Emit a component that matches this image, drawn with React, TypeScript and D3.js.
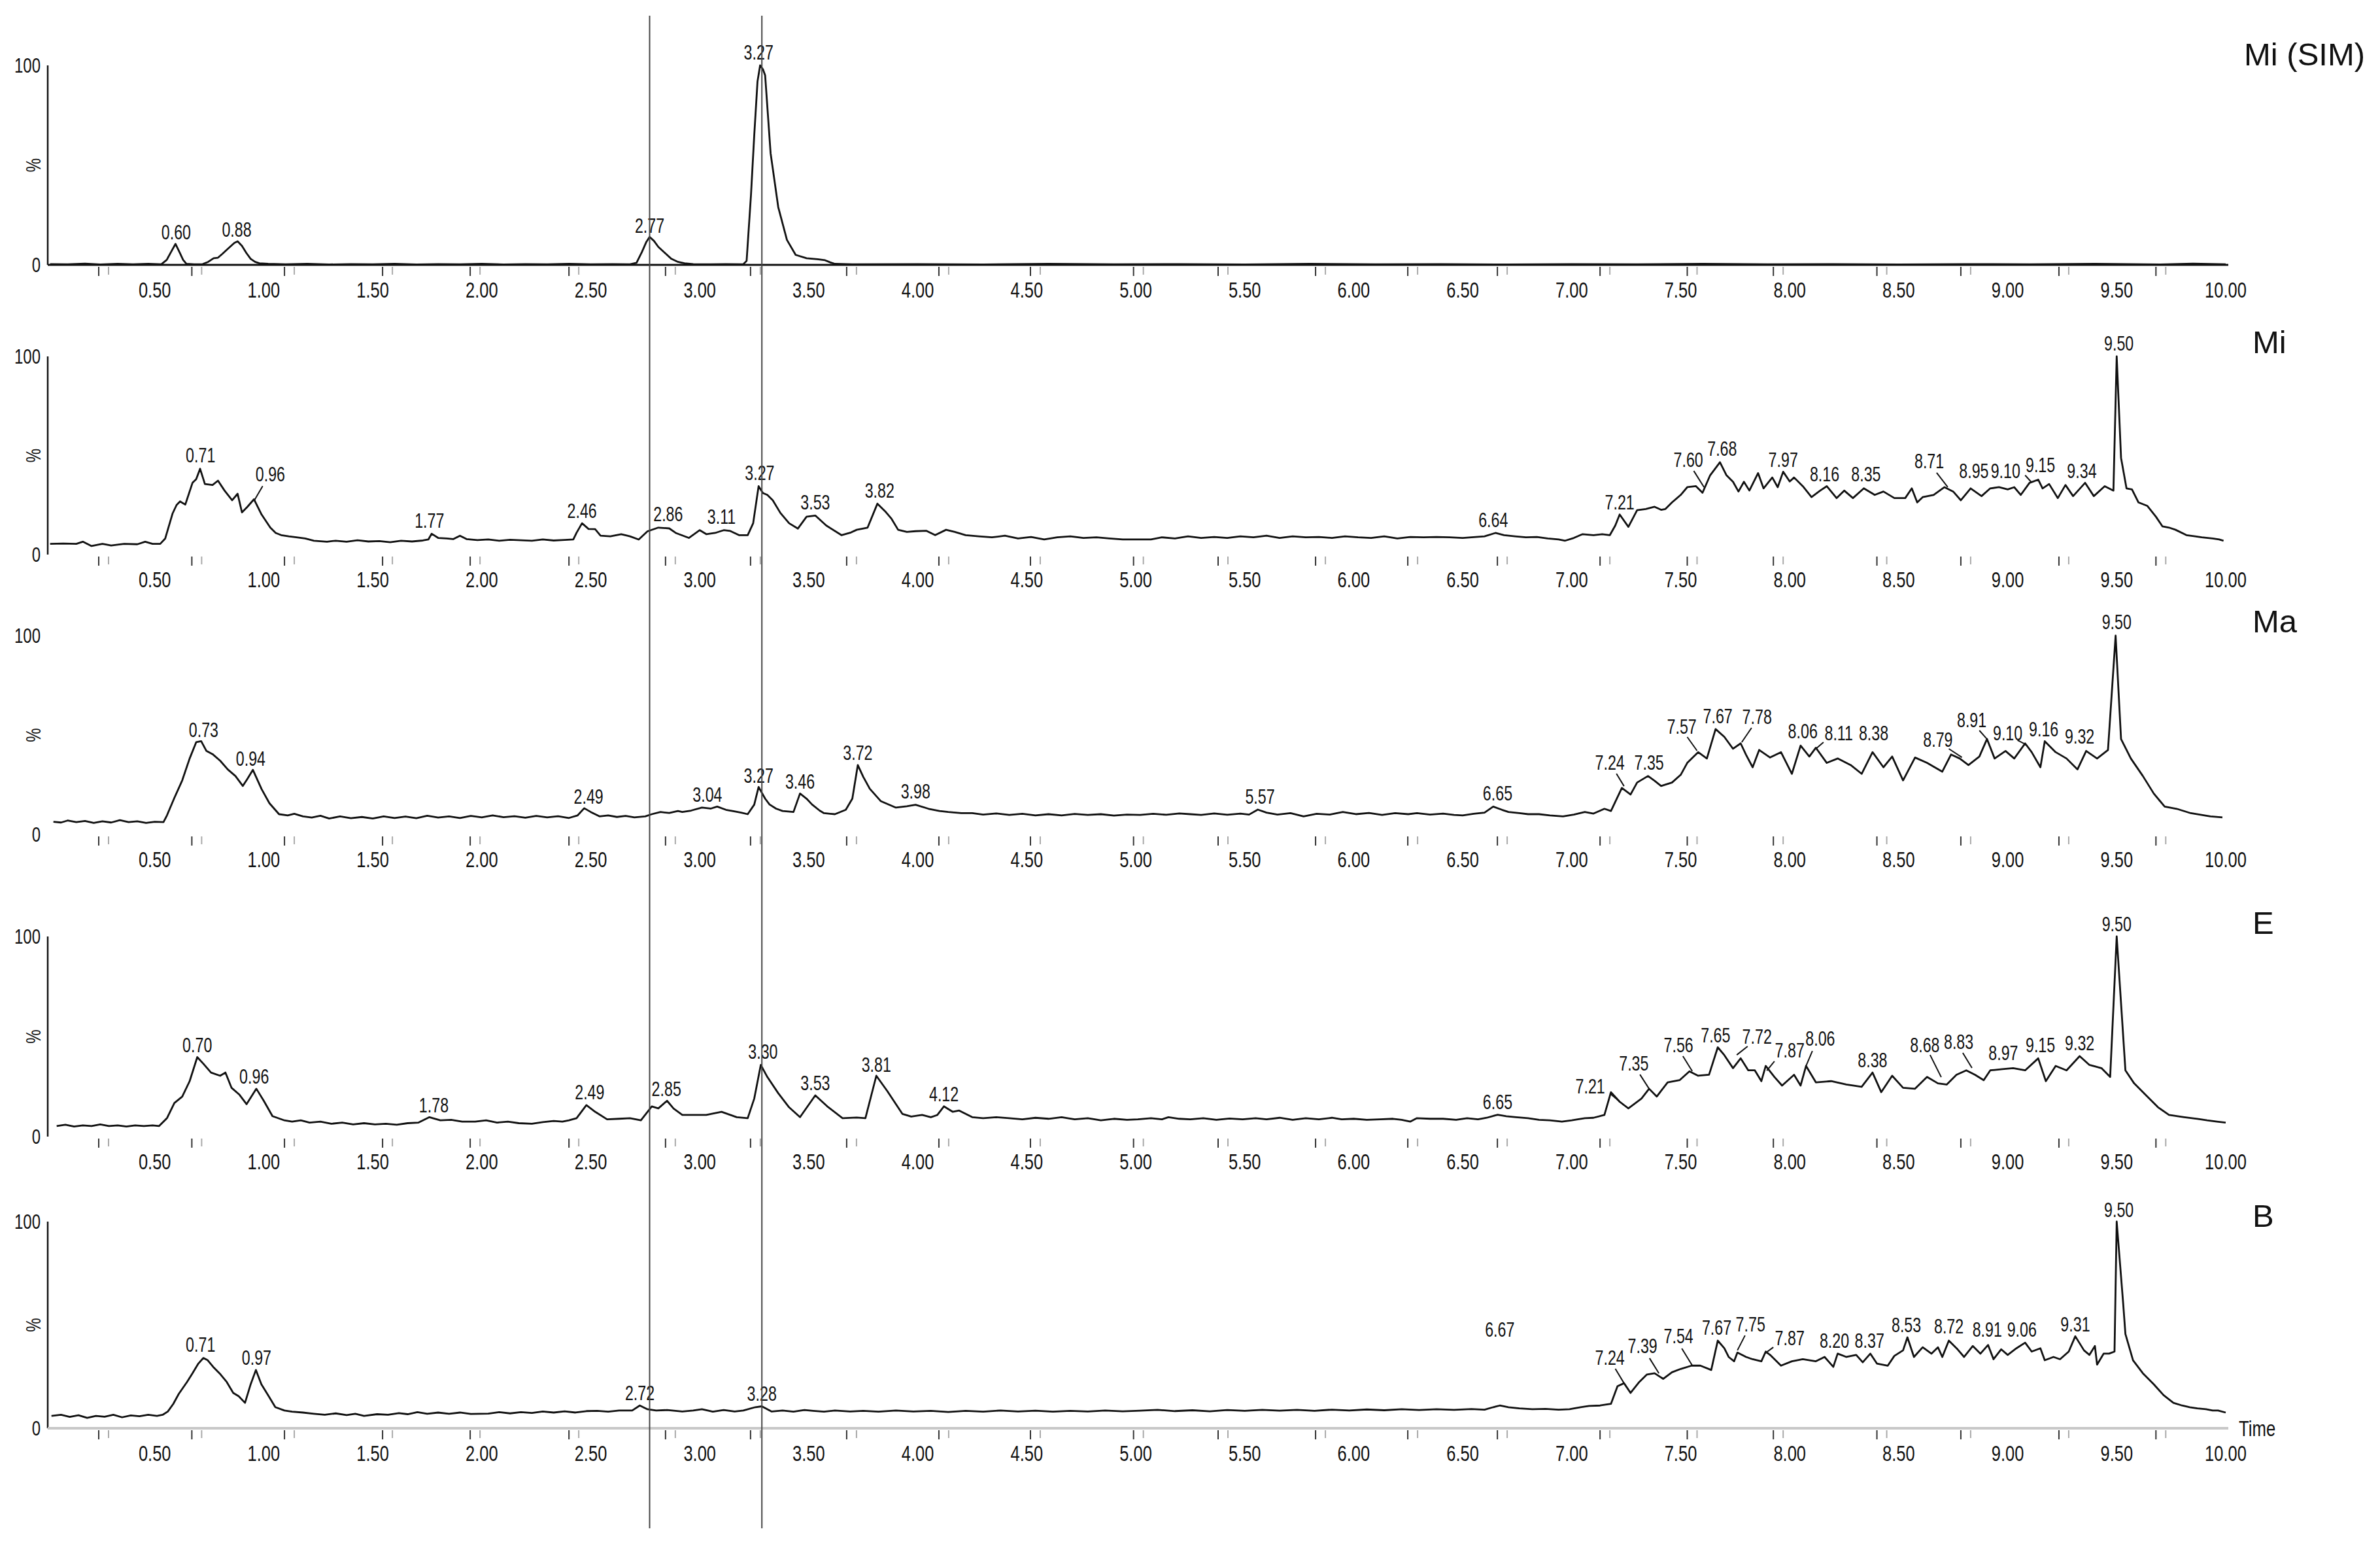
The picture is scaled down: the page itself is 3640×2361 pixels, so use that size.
import React from "react";
import * as d3 from "d3";

type Pt = [number, number];
type Lbl = { t: number; v: number; text: string; lt?: number; lv?: number; pt?: number; pv?: number };

const W = 3640;
const H = 2361;
const FONT = "'Liberation Sans', Arial, Helvetica, sans-serif";

// ---------- axis data ----------
const xTickValues = [0.5, 1, 1.5, 2, 2.5, 3, 3.5, 4, 4.5, 5, 5.5, 6, 6.5, 7, 7.5, 8, 8.5, 9, 9.5, 10];
const scanTicks = [0.243, 0.67, 1.095, 1.545, 1.947, 2.4, 2.843, 3.233, 3.674, 4.097, 4.517, 4.99, 5.378, 5.825, 6.248, 6.659, 7.13, 7.53, 7.925, 8.4, 8.785, 9.235, 9.68];
const markerTimes = [2.77, 3.285];
const panelNames = ["Mi (SIM)", "Mi", "Ma", "E", "B"];

// ---------- traces (time, %) ----------
const traceMiSIM: Pt[] = [
  [0.02, 0.4], [0.1, 0.3], [0.18, 0.6], [0.25, 0.2], [0.33, 0.5], [0.4, 0.3], [0.47, 0.5], [0.53, 0.3], [0.555, 2.5], [0.575, 6.5], [0.595, 10.5], [0.615, 6], [0.63, 2.5], [0.645, 0.5], [0.68, 0.3], [0.72, 0.4], [0.745, 1.5], [0.77, 3.3], [0.79, 3.6], [0.81, 5.5], [0.84, 8.5], [0.865, 11], [0.88, 11.8], [0.9, 9.5], [0.92, 6], [0.94, 3], [0.96, 1.5], [0.98, 0.8], [1.02, 0.5], [1.1, 0.3], [1.2, 0.5], [1.3, 0.2], [1.4, 0.4], [1.5, 0.3], [1.6, 0.5], [1.7, 0.2], [1.8, 0.4], [1.9, 0.3], [2.0, 0.5], [2.1, 0.2], [2.2, 0.4], [2.3, 0.3], [2.4, 0.5], [2.5, 0.3], [2.6, 0.4], [2.68, 0.3], [2.71, 1], [2.735, 6.5], [2.755, 11.5], [2.77, 14], [2.79, 12], [2.81, 9], [2.84, 6], [2.87, 3], [2.9, 1.5], [2.93, 0.8], [2.97, 0.4], [3.05, 0.3], [3.12, 0.4], [3.2, 0.3], [3.215, 2], [3.235, 35], [3.25, 65], [3.265, 92], [3.277, 100], [3.29, 98], [3.3, 95], [3.325, 56], [3.36, 29], [3.4, 12.5], [3.44, 5], [3.49, 3.3], [3.54, 2.8], [3.575, 2.3], [3.6, 1.2], [3.62, 0.5], [3.7, 0.3], [4.0, 0.4], [4.3, 0.2], [4.6, 0.5], [4.9, 0.3], [5.2, 0.4], [5.5, 0.2], [5.8, 0.5], [6.1, 0.3], [6.4, 0.4], [6.7, 0.2], [7.0, 0.4], [7.3, 0.3], [7.6, 0.5], [7.9, 0.3], [8.2, 0.4], [8.5, 0.2], [8.8, 0.4], [9.1, 0.3], [9.4, 0.5], [9.7, 0.2], [9.85, 0.6], [10.0, 0.3],
];

const traceMi: Pt[] = [
  [0.02, 5.4], [0.08, 5.6], [0.14, 5.4], [0.17, 6.5], [0.21, 4.3], [0.26, 5.4], [0.3, 4.6], [0.36, 5.4], [0.42, 5.2], [0.456, 6.5], [0.49, 5.4], [0.525, 5.4], [0.548, 8.1], [0.582, 20.8], [0.6, 25], [0.616, 26.8], [0.64, 25.2], [0.673, 36.2], [0.69, 38], [0.708, 43.3], [0.73, 35.6], [0.765, 35.1], [0.79, 37.3], [0.82, 32.3], [0.855, 27.4], [0.88, 30.7], [0.9, 21.3], [0.925, 24.1], [0.955, 27.9], [0.99, 20.2], [1.03, 13.6], [1.055, 10.9], [1.08, 9.8], [1.115, 9.2], [1.15, 8.7], [1.19, 8.1], [1.23, 7.0], [1.29, 6.5], [1.33, 7.0], [1.38, 6.5], [1.43, 7.2], [1.48, 6.6], [1.53, 6.8], [1.58, 6.2], [1.63, 7.0], [1.68, 6.6], [1.73, 7.1], [1.755, 7.6], [1.77, 10.5], [1.8, 8.4], [1.84, 8.1], [1.87, 7.8], [1.9, 9.5], [1.93, 7.8], [1.98, 7.3], [2.03, 7.6], [2.08, 7.0], [2.13, 7.5], [2.18, 7.2], [2.23, 7.0], [2.28, 7.6], [2.33, 7.1], [2.38, 7.4], [2.42, 7.6], [2.435, 11.0], [2.46, 15.8], [2.49, 12.9], [2.52, 12.8], [2.545, 9.5], [2.59, 9.2], [2.64, 10.3], [2.68, 9.2], [2.72, 7.6], [2.76, 11.7], [2.81, 13.6], [2.86, 13.2], [2.89, 10.9], [2.95, 8.4], [3.0, 12.3], [3.03, 10.3], [3.07, 10.9], [3.11, 12.3], [3.14, 11.9], [3.18, 9.8], [3.22, 9.8], [3.245, 15.8], [3.27, 34.5], [3.29, 31], [3.31, 30.1], [3.335, 27.4], [3.37, 21], [3.41, 15.8], [3.45, 13.1], [3.49, 19.1], [3.53, 19.7], [3.58, 14.7], [3.65, 9.8], [3.69, 11.0], [3.72, 12.5], [3.77, 13.6], [3.815, 25.7], [3.85, 21.9], [3.88, 18], [3.91, 12.5], [3.95, 11.4], [3.99, 11.8], [4.04, 12.0], [4.08, 9.8], [4.13, 12.5], [4.17, 11.4], [4.22, 9.8], [4.28, 9.2], [4.34, 8.7], [4.4, 9.5], [4.46, 8.1], [4.52, 8.9], [4.58, 7.6], [4.64, 8.7], [4.7, 9.2], [4.76, 8.4], [4.82, 8.7], [4.88, 8.1], [4.94, 7.6], [5.0, 7.6], [5.07, 7.6], [5.12, 8.7], [5.18, 8.1], [5.24, 9.2], [5.3, 8.4], [5.36, 8.9], [5.42, 8.4], [5.48, 9.2], [5.54, 8.7], [5.6, 9.5], [5.66, 8.4], [5.72, 9.2], [5.78, 8.7], [5.84, 8.9], [5.9, 8.4], [5.96, 9.2], [6.02, 8.7], [6.08, 8.4], [6.14, 9.2], [6.2, 8.1], [6.26, 8.9], [6.32, 8.7], [6.38, 8.9], [6.44, 8.7], [6.5, 8.4], [6.56, 8.9], [6.6, 9.2], [6.65, 10.9], [6.69, 9.8], [6.74, 9.2], [6.79, 8.7], [6.84, 8.9], [6.89, 8.1], [6.94, 7.6], [6.97, 7.0], [7.01, 8.4], [7.05, 10.3], [7.1, 9.8], [7.14, 10.3], [7.175, 9.8], [7.2, 14.7], [7.22, 20.2], [7.26, 14.0], [7.3, 22.4], [7.34, 23.0], [7.38, 24.1], [7.41, 22.6], [7.43, 23.0], [7.46, 26.3], [7.5, 30.1], [7.53, 34.0], [7.57, 34.5], [7.6, 31.2], [7.635, 40], [7.68, 46.6], [7.71, 40.0], [7.74, 36.7], [7.765, 31.8], [7.79, 36.7], [7.815, 32.3], [7.855, 41.1], [7.88, 33.4], [7.92, 38.9], [7.945, 34.0], [7.97, 41.8], [8.0, 36.9], [8.02, 38.9], [8.06, 34.5], [8.1, 29.0], [8.14, 32.3], [8.17, 34.5], [8.215, 28.5], [8.25, 32.3], [8.29, 28.5], [8.34, 33.4], [8.39, 30.1], [8.43, 31.8], [8.48, 28.5], [8.53, 28.5], [8.56, 33.4], [8.585, 26.3], [8.61, 29.0], [8.66, 30.1], [8.71, 34.0], [8.75, 31.8], [8.785, 27.4], [8.83, 33.4], [8.88, 29.5], [8.92, 33.4], [8.96, 34.0], [9.0, 32.9], [9.03, 34.0], [9.06, 30.1], [9.1, 36.2], [9.14, 37.8], [9.16, 33.4], [9.19, 35.6], [9.23, 28.5], [9.265, 35.1], [9.3, 29.5], [9.355, 36.2], [9.395, 29.5], [9.445, 34.5], [9.485, 32.3], [9.5, 100], [9.52, 48.8], [9.545, 33.4], [9.57, 32.9], [9.6, 26.3], [9.64, 24.6], [9.68, 19.1], [9.71, 14.2], [9.74, 13.6], [9.77, 12.5], [9.82, 9.8], [9.86, 9.2], [9.89, 8.7], [9.94, 8.1], [9.97, 7.6], [9.99, 7.0],
];

const traceMa: Pt[] = [
  [0.035, 6.4], [0.07, 6.0], [0.1, 7.0], [0.14, 6.2], [0.18, 6.8], [0.22, 5.8], [0.26, 6.6], [0.3, 6.0], [0.34, 7.2], [0.38, 6.2], [0.42, 6.6], [0.46, 5.8], [0.5, 6.4], [0.54, 6.2], [0.556, 9.6], [0.59, 18.4], [0.626, 27.2], [0.66, 38.2], [0.69, 46.4], [0.713, 46.9], [0.737, 42.0], [0.765, 40.4], [0.8, 37.1], [0.835, 32.7], [0.87, 29.4], [0.904, 24.4], [0.925, 28], [0.95, 32.5], [0.99, 22.8], [1.026, 15.7], [1.07, 10.2], [1.11, 9.6], [1.14, 10.4], [1.18, 9.1], [1.22, 8.5], [1.26, 9.4], [1.3, 8.0], [1.35, 9.1], [1.4, 8.2], [1.45, 8.8], [1.5, 8.0], [1.55, 9.1], [1.6, 8.3], [1.65, 9.0], [1.7, 8.2], [1.75, 9.4], [1.8, 8.5], [1.85, 9.1], [1.9, 8.3], [1.95, 9.3], [2.0, 8.6], [2.05, 9.6], [2.1, 8.7], [2.15, 9.2], [2.2, 8.4], [2.25, 9.3], [2.3, 8.6], [2.35, 9.2], [2.4, 8.3], [2.44, 9.6], [2.47, 13.2], [2.5, 11.3], [2.54, 9.1], [2.58, 9.6], [2.62, 8.8], [2.66, 9.3], [2.7, 8.6], [2.75, 9.1], [2.78, 10.2], [2.82, 11.3], [2.86, 10.8], [2.9, 11.8], [2.92, 11.3], [2.96, 12.0], [3.01, 13.5], [3.05, 13.0], [3.08, 14.0], [3.12, 12.4], [3.15, 11.8], [3.19, 11.0], [3.22, 10.2], [3.25, 15], [3.27, 23.9], [3.3, 18], [3.32, 15.1], [3.35, 13], [3.38, 11.8], [3.43, 11.3], [3.46, 20.6], [3.49, 18], [3.515, 15.1], [3.55, 12], [3.57, 10.7], [3.62, 10.2], [3.67, 12.4], [3.7, 18], [3.725, 34.9], [3.75, 29], [3.78, 23.0], [3.83, 16.8], [3.9, 13.5], [3.95, 14.2], [3.99, 14.9], [4.05, 12.9], [4.1, 11.8], [4.14, 11.3], [4.2, 10.7], [4.25, 10.7], [4.3, 10.0], [4.36, 10.6], [4.42, 9.8], [4.48, 10.4], [4.54, 9.6], [4.6, 10.2], [4.66, 9.6], [4.72, 10.3], [4.78, 9.8], [4.84, 10.2], [4.9, 9.5], [4.96, 10.0], [5.02, 9.8], [5.08, 10.4], [5.14, 9.9], [5.2, 10.6], [5.25, 10.2], [5.3, 9.8], [5.36, 10.6], [5.42, 9.9], [5.48, 10.5], [5.52, 10.0], [5.56, 12.5], [5.6, 11.0], [5.65, 10.0], [5.71, 10.7], [5.77, 9.1], [5.83, 10.4], [5.89, 10.0], [5.95, 11.3], [6.01, 10.2], [6.07, 10.8], [6.13, 9.8], [6.19, 10.7], [6.25, 10.2], [6.29, 10.7], [6.35, 10.0], [6.41, 10.5], [6.46, 9.8], [6.5, 9.6], [6.55, 10.4], [6.6, 11.0], [6.64, 14.0], [6.68, 12.4], [6.71, 11.3], [6.76, 10.7], [6.8, 10.2], [6.85, 10.2], [6.9, 9.6], [6.96, 9.1], [7.01, 10.0], [7.06, 11.3], [7.1, 10.5], [7.15, 12.9], [7.18, 11.8], [7.23, 23.4], [7.27, 20.1], [7.3, 26.1], [7.35, 29.4], [7.38, 27], [7.41, 24.4], [7.46, 26.1], [7.5, 30], [7.53, 36.0], [7.58, 41.4], [7.62, 38.2], [7.66, 53.0], [7.7, 49.1], [7.74, 43.1], [7.775, 45.8], [7.8, 40], [7.83, 33.8], [7.86, 42.5], [7.91, 38.7], [7.96, 41.4], [8.01, 30.5], [8.05, 44.7], [8.09, 39.2], [8.12, 43.6], [8.17, 36.0], [8.22, 38.2], [8.28, 34.9], [8.33, 30.5], [8.38, 41.4], [8.43, 33.8], [8.47, 39.2], [8.52, 27.2], [8.575, 38.7], [8.63, 36.0], [8.7, 31.6], [8.74, 40.2], [8.78, 38.2], [8.82, 34.9], [8.87, 39.2], [8.905, 48.0], [8.94, 38.2], [8.99, 42.0], [9.03, 38.2], [9.08, 45.8], [9.11, 41.4], [9.15, 33.8], [9.17, 46.9], [9.22, 41.4], [9.27, 38.2], [9.32, 32.7], [9.36, 42.0], [9.41, 38.2], [9.46, 42.5], [9.495, 100], [9.52, 48.0], [9.565, 38.2], [9.62, 29.4], [9.67, 20.6], [9.72, 14.0], [9.775, 12.9], [9.84, 10.7], [9.93, 9.1], [9.985, 8.6],
];

const traceE: Pt[] = [
  [0.05, 5.3], [0.09, 5.9], [0.13, 5.0], [0.17, 5.6], [0.21, 5.3], [0.25, 6.1], [0.29, 5.3], [0.33, 5.6], [0.37, 5.0], [0.41, 5.6], [0.45, 5.3], [0.49, 5.6], [0.52, 5.3], [0.556, 9.2], [0.59, 16.8], [0.626, 20.0], [0.66, 27.7], [0.695, 39.7], [0.723, 36.4], [0.758, 32.0], [0.8, 30.4], [0.824, 32.0], [0.852, 24.4], [0.887, 21.1], [0.921, 16.2], [0.966, 23.9], [1.0, 17.9], [1.04, 10.2], [1.095, 8.1], [1.13, 7.5], [1.17, 8.1], [1.21, 7.0], [1.26, 7.5], [1.31, 6.4], [1.36, 7.0], [1.41, 6.1], [1.46, 6.7], [1.51, 6.1], [1.56, 6.4], [1.61, 5.9], [1.66, 6.7], [1.71, 7.0], [1.76, 9.7], [1.81, 8.1], [1.86, 8.4], [1.91, 7.5], [1.97, 7.5], [2.02, 8.1], [2.07, 7.0], [2.12, 7.5], [2.17, 6.7], [2.23, 6.4], [2.28, 7.2], [2.33, 7.8], [2.37, 7.5], [2.4, 8.1], [2.435, 9.2], [2.48, 15.7], [2.52, 12.4], [2.575, 8.6], [2.63, 8.9], [2.68, 9.2], [2.73, 8.1], [2.78, 15.1], [2.81, 14.1], [2.85, 17.9], [2.88, 14], [2.92, 10.8], [2.97, 10.8], [3.03, 10.8], [3.1, 12.4], [3.17, 9.7], [3.22, 9.2], [3.25, 19.0], [3.28, 35.8], [3.31, 29.8], [3.36, 21.7], [3.41, 14.6], [3.46, 9.7], [3.53, 20.6], [3.585, 15.1], [3.655, 9.2], [3.72, 9.5], [3.76, 9.2], [3.81, 30.4], [3.86, 22.8], [3.93, 11.3], [3.97, 10.0], [4.02, 10.8], [4.06, 9.7], [4.09, 10.8], [4.12, 15.1], [4.16, 12.4], [4.19, 13.0], [4.25, 9.7], [4.3, 9.2], [4.36, 9.7], [4.42, 9.2], [4.48, 8.6], [4.54, 9.4], [4.6, 8.9], [4.66, 9.7], [4.72, 8.6], [4.78, 9.2], [4.84, 8.1], [4.9, 8.9], [4.96, 8.4], [5.01, 8.6], [5.07, 9.2], [5.12, 8.6], [5.15, 9.7], [5.2, 8.9], [5.25, 8.6], [5.31, 9.2], [5.37, 8.4], [5.43, 9.0], [5.49, 8.6], [5.55, 9.2], [5.6, 8.6], [5.66, 9.4], [5.72, 8.4], [5.78, 9.2], [5.84, 8.6], [5.9, 9.4], [5.945, 8.6], [6.0, 8.9], [6.06, 8.4], [6.12, 8.6], [6.18, 8.9], [6.22, 8.4], [6.26, 7.5], [6.29, 9.2], [6.35, 8.9], [6.41, 8.9], [6.47, 8.4], [6.52, 9.2], [6.57, 8.6], [6.61, 9.4], [6.66, 10.9], [6.7, 10.2], [6.745, 9.7], [6.8, 9.2], [6.85, 8.4], [6.9, 8.1], [6.955, 7.5], [7.0, 8.1], [7.06, 9.2], [7.1, 9.4], [7.15, 10.8], [7.18, 22.2], [7.22, 17.4], [7.26, 14.1], [7.32, 19.0], [7.355, 23.9], [7.39, 20.0], [7.44, 27.1], [7.495, 28.2], [7.54, 32.6], [7.58, 30.4], [7.63, 30.9], [7.67, 44.6], [7.7, 40.7], [7.74, 34.2], [7.775, 39.1], [7.81, 33.1], [7.84, 33.1], [7.87, 27.7], [7.89, 35.3], [7.93, 29.8], [7.965, 25.5], [8.02, 30.9], [8.05, 25.5], [8.075, 35.3], [8.12, 27.1], [8.19, 27.7], [8.26, 26.0], [8.33, 24.9], [8.38, 32.0], [8.42, 22.2], [8.47, 30.4], [8.52, 24.4], [8.575, 23.9], [8.63, 29.8], [8.68, 26.6], [8.72, 26.0], [8.765, 30.9], [8.81, 33.1], [8.85, 30.9], [8.89, 28.2], [8.92, 33.1], [8.975, 33.7], [9.025, 34.2], [9.08, 33.1], [9.14, 39.1], [9.175, 27.7], [9.22, 35.3], [9.27, 33.1], [9.33, 40.2], [9.375, 35.8], [9.43, 34.2], [9.47, 29.8], [9.5, 100], [9.54, 33.1], [9.58, 26.6], [9.635, 20.6], [9.69, 14.6], [9.74, 10.8], [9.81, 9.7], [9.87, 8.9], [9.915, 8.1], [9.96, 7.5], [10.0, 7.0],
];

const traceB: Pt[] = [
  [0.026, 6.0], [0.07, 6.5], [0.11, 5.5], [0.15, 6.3], [0.19, 5.0], [0.23, 6.0], [0.27, 5.6], [0.31, 6.5], [0.35, 5.3], [0.39, 6.2], [0.43, 5.8], [0.47, 6.5], [0.51, 6.0], [0.536, 6.5], [0.56, 8.1], [0.585, 11.8], [0.61, 16.6], [0.648, 22.4], [0.673, 26.6], [0.7, 31.3], [0.723, 34.0], [0.743, 32.9], [0.768, 29.7], [0.797, 26.6], [0.83, 22.4], [0.86, 17.1], [0.885, 15.5], [0.914, 12.3], [0.94, 21.3], [0.964, 28.2], [0.989, 21.3], [1.02, 16.0], [1.053, 10.2], [1.095, 8.6], [1.13, 8.0], [1.18, 7.6], [1.23, 7.0], [1.28, 6.5], [1.33, 7.2], [1.38, 6.4], [1.42, 7.0], [1.46, 6.0], [1.52, 6.8], [1.57, 6.5], [1.62, 7.3], [1.66, 6.8], [1.705, 7.8], [1.75, 7.0], [1.8, 7.6], [1.85, 7.0], [1.9, 7.6], [1.95, 6.9], [2.03, 7.1], [2.08, 7.8], [2.13, 7.2], [2.18, 7.8], [2.23, 7.4], [2.28, 8.1], [2.33, 7.6], [2.38, 8.2], [2.43, 7.6], [2.48, 8.3], [2.53, 8.4], [2.58, 8.0], [2.63, 8.6], [2.69, 8.6], [2.725, 11.0], [2.76, 9.2], [2.8, 8.6], [2.85, 8.8], [2.92, 8.1], [2.97, 8.6], [3.01, 9.2], [3.06, 8.0], [3.11, 8.8], [3.16, 8.1], [3.2, 8.6], [3.255, 10.2], [3.285, 10.6], [3.33, 8.1], [3.38, 8.6], [3.43, 8.0], [3.48, 8.8], [3.52, 8.4], [3.57, 8.0], [3.62, 8.6], [3.69, 8.1], [3.75, 8.4], [3.82, 8.0], [3.9, 8.6], [3.98, 8.1], [4.06, 8.4], [4.14, 7.9], [4.22, 8.4], [4.3, 8.0], [4.38, 8.6], [4.46, 8.1], [4.54, 8.5], [4.62, 8.0], [4.7, 8.4], [4.78, 8.1], [4.86, 8.6], [4.94, 8.2], [5.02, 8.5], [5.1, 8.9], [5.18, 8.3], [5.26, 8.7], [5.34, 8.2], [5.42, 8.8], [5.5, 8.4], [5.58, 8.9], [5.66, 8.5], [5.74, 8.9], [5.82, 8.4], [5.9, 9.0], [5.98, 8.6], [6.06, 9.1], [6.14, 8.7], [6.22, 9.2], [6.3, 8.8], [6.38, 9.2], [6.46, 8.9], [6.54, 9.3], [6.6, 9.0], [6.64, 10.2], [6.67, 11.0], [6.71, 10.2], [6.76, 9.6], [6.82, 9.2], [6.88, 9.4], [6.94, 9.0], [6.99, 9.2], [7.04, 10.2], [7.08, 10.8], [7.13, 11.0], [7.18, 11.8], [7.21, 20.3], [7.24, 21.8], [7.27, 17.1], [7.31, 22.4], [7.345, 26.0], [7.38, 26.6], [7.42, 23.9], [7.46, 27.1], [7.5, 28.7], [7.55, 30.3], [7.59, 30.3], [7.64, 28.2], [7.67, 42.4], [7.7, 38.7], [7.72, 34.5], [7.745, 32.4], [7.76, 36.6], [7.8, 34.5], [7.83, 33.4], [7.87, 32.4], [7.89, 37.1], [7.91, 35.5], [7.96, 30.3], [8.01, 32.4], [8.06, 33.4], [8.12, 32.4], [8.16, 34.5], [8.2, 29.7], [8.22, 36.1], [8.26, 34.5], [8.305, 35.5], [8.335, 31.9], [8.37, 36.1], [8.4, 31.3], [8.45, 30.3], [8.48, 35.0], [8.52, 37.7], [8.54, 44.0], [8.57, 34.5], [8.61, 39.2], [8.65, 36.1], [8.68, 39.2], [8.7, 34.5], [8.73, 42.4], [8.77, 38.2], [8.8, 34.5], [8.84, 39.8], [8.875, 36.1], [8.91, 40.3], [8.935, 33.4], [8.97, 38.2], [9.0, 35.5], [9.04, 38.7], [9.08, 41.4], [9.11, 37.1], [9.15, 38.7], [9.17, 32.9], [9.21, 34.5], [9.24, 33.4], [9.28, 37.1], [9.31, 44.5], [9.35, 37.7], [9.375, 35.5], [9.4, 39.8], [9.41, 30.8], [9.44, 36.1], [9.465, 36.1], [9.49, 37.1], [9.5, 100], [9.53, 60], [9.54, 45.6], [9.575, 32.9], [9.62, 26.6], [9.67, 21.3], [9.715, 16.0], [9.76, 12.3], [9.8, 11.0], [9.835, 10.2], [9.87, 9.6], [9.91, 9.2], [9.94, 8.6], [9.965, 8.6], [10.0, 7.6],
];

// ---------- peak labels: text at (t, v); optional leader from (lt, lv) to (pt, pv) ----------
const labelsMiSIM: Lbl[] = [
  { t: 0.598, v: 12.5, text: "0.60" }, { t: 0.876, v: 13.8, text: "0.88" }, { t: 2.77, v: 15.7, text: "2.77" }, { t: 3.27, v: 102.6, text: "3.27" },
];
const labelsMi: Lbl[] = [
  { t: 0.71, v: 46.2, text: "0.71" },
  { t: 1.03, v: 36.6, text: "0.96", lt: 0.995, lv: 34.6, pt: 0.957, pv: 27.4 },
  { t: 1.76, v: 13.2, text: "1.77" }, { t: 2.46, v: 18.2, text: "2.46" }, { t: 2.855, v: 16.5, text: "2.86" },
  { t: 3.1, v: 15.2, text: "3.11" }, { t: 3.275, v: 37.3, text: "3.27" }, { t: 3.53, v: 22.4, text: "3.53" },
  { t: 3.825, v: 28.4, text: "3.82" }, { t: 6.64, v: 13.5, text: "6.64" }, { t: 7.22, v: 22.4, text: "7.21" },
  { t: 7.535, v: 43.9, text: "7.60", lt: 7.56, lv: 42.2, pt: 7.607, pv: 34.0 },
  { t: 7.69, v: 49.5, text: "7.68" }, { t: 7.97, v: 43.9, text: "7.97" }, { t: 8.16, v: 36.6, text: "8.16" },
  { t: 8.35, v: 36.6, text: "8.35" },
  { t: 8.64, v: 43.2, text: "8.71", lt: 8.674, lv: 41.3, pt: 8.725, pv: 34.0 },
  { t: 8.845, v: 38.3, text: "8.95" }, { t: 8.99, v: 38.3, text: "9.10", lt: 9.08, lv: 40.0, pt: 9.11, pv: 36.4 },
  { t: 9.15, v: 41.3, text: "9.15" }, { t: 9.34, v: 38.3, text: "9.34" }, { t: 9.51, v: 102.6, text: "9.50" },
];
const labelsMa: Lbl[] = [
  { t: 0.724, v: 48.7, text: "0.73" }, { t: 0.94, v: 34.2, text: "0.94" }, { t: 2.49, v: 15.1, text: "2.49" },
  { t: 3.035, v: 16.1, text: "3.04" }, { t: 3.27, v: 25.7, text: "3.27" }, { t: 3.46, v: 22.7, text: "3.46" },
  { t: 3.725, v: 37.2, text: "3.72" }, { t: 3.99, v: 17.8, text: "3.98" }, { t: 5.57, v: 15.1, text: "5.57" },
  { t: 6.66, v: 16.8, text: "6.65" },
  { t: 7.175, v: 32.2, text: "7.24", lt: 7.205, lv: 30.6, pt: 7.24, pv: 24.3 },
  { t: 7.355, v: 32.2, text: "7.35" },
  { t: 7.505, v: 50.3, text: "7.57", lt: 7.53, lv: 49, pt: 7.575, pv: 42.1 },
  { t: 7.67, v: 55.6, text: "7.67" },
  { t: 7.85, v: 55.3, text: "7.78", lt: 7.825, lv: 53.6, pt: 7.78, pv: 46.4 },
  { t: 8.06, v: 48.0, text: "8.06" },
  { t: 8.225, v: 47.0, text: "8.11", lt: 8.155, lv: 46.4, pt: 8.12, pv: 43.1 },
  { t: 8.385, v: 47.0, text: "8.38" },
  { t: 8.68, v: 43.8, text: "8.79", lt: 8.73, lv: 43.1, pt: 8.79, pv: 38.8 },
  { t: 8.835, v: 53.6, text: "8.91", lt: 8.87, lv: 52.3, pt: 8.905, pv: 48.0 },
  { t: 9.0, v: 47.0, text: "9.10", lt: 9.045, lv: 47.4, pt: 9.08, pv: 45.4 },
  { t: 9.165, v: 49.0, text: "9.16" }, { t: 9.33, v: 45.4, text: "9.32" }, { t: 9.5, v: 103, text: "9.50" },
];
const labelsE: Lbl[] = [
  { t: 0.695, v: 41.8, text: "0.70" }, { t: 0.956, v: 26.1, text: "0.96" }, { t: 1.78, v: 11.8, text: "1.78" },
  { t: 2.495, v: 18.3, text: "2.49" }, { t: 2.847, v: 19.9, text: "2.85" }, { t: 3.29, v: 38.6, text: "3.30" },
  { t: 3.53, v: 22.9, text: "3.53" }, { t: 3.81, v: 32.0, text: "3.81" }, { t: 4.12, v: 17.3, text: "4.12" },
  { t: 6.66, v: 13.4, text: "6.65" },
  { t: 7.085, v: 21.2, text: "7.21", lt: 7.175, lv: 21.6, pt: 7.24, pv: 15.7 },
  { t: 7.285, v: 32.7, text: "7.35", lt: 7.313, lv: 31.0, pt: 7.355, pv: 23.9 },
  { t: 7.49, v: 41.8, text: "7.56", lt: 7.51, lv: 40.2, pt: 7.553, pv: 32.7 },
  { t: 7.66, v: 46.7, text: "7.65" },
  { t: 7.85, v: 46.1, text: "7.72", lt: 7.807, lv: 45.1, pt: 7.757, pv: 40.8 },
  { t: 8.0, v: 39.2, text: "7.87", lt: 7.93, lv: 37.6, pt: 7.895, pv: 33.0 },
  { t: 8.14, v: 45.1, text: "8.06", lt: 8.104, lv: 42.8, pt: 8.075, pv: 35.3 },
  { t: 8.38, v: 34.3, text: "8.38" },
  { t: 8.62, v: 41.8, text: "8.68", lt: 8.644, lv: 40.8, pt: 8.695, pv: 29.7 },
  { t: 8.775, v: 43.5, text: "8.83", lt: 8.794, lv: 41.8, pt: 8.836, pv: 34.3 },
  { t: 8.98, v: 37.9, text: "8.97" }, { t: 9.15, v: 41.8, text: "9.15" }, { t: 9.33, v: 42.8, text: "9.32" },
  { t: 9.5, v: 102.3, text: "9.50" },
];
const labelsB: Lbl[] = [
  { t: 0.71, v: 36.7, text: "0.71" }, { t: 0.967, v: 30.4, text: "0.97" }, { t: 2.725, v: 13.3, text: "2.72" },
  { t: 3.285, v: 13.0, text: "3.28" }, { t: 6.67, v: 44.0, text: "6.67" },
  { t: 7.175, v: 30.4, text: "7.24", lt: 7.2, lv: 28.8, pt: 7.24, pv: 21.8 },
  { t: 7.325, v: 36.1, text: "7.39", lt: 7.357, lv: 33.9, pt: 7.4, pv: 26.6 },
  { t: 7.49, v: 40.8, text: "7.54", lt: 7.505, lv: 38.6, pt: 7.553, pv: 30.4 },
  { t: 7.665, v: 44.9, text: "7.67" },
  { t: 7.82, v: 46.5, text: "7.75", lt: 7.795, lv: 44.9, pt: 7.76, pv: 37.7 },
  { t: 8.0, v: 39.9, text: "7.87", lt: 7.925, lv: 39.2, pt: 7.885, pv: 36.1 },
  { t: 8.205, v: 38.6, text: "8.20" }, { t: 8.366, v: 38.6, text: "8.37" }, { t: 8.535, v: 46.2, text: "8.53" },
  { t: 8.73, v: 45.6, text: "8.72" }, { t: 8.906, v: 44.0, text: "8.91" }, { t: 9.065, v: 44.0, text: "9.06" },
  { t: 9.31, v: 46.5, text: "9.31" }, { t: 9.51, v: 101.9, text: "9.50" },
];

// ---------- layout (pixels) ----------
const X0 = 70;
const X1 = 3404;
const layout = [
  { top: 100, base: 405, yAxis: true, xLine: "#111", nameY: 100, nameX: 3432 },
  { top: 545, base: 848, yAxis: true, xLine: null, nameY: 540, nameX: 3445 },
  { top: 972, base: 1276, yAxis: false, xLine: null, nameY: 967, nameX: 3445 },
  { top: 1432, base: 1738, yAxis: true, xLine: null, nameY: 1428, nameX: 3445 },
  { top: 1868, base: 2184, yAxis: true, xLine: "#c8c8c8", nameY: 1876, nameX: 3445 },
];
const traces = [traceMiSIM, traceMi, traceMa, traceE, traceB];
const labelSets = [labelsMiSIM, labelsMi, labelsMa, labelsE, labelsB];

const x = d3.scaleLinear().domain([0, 10]).range([X0, X1]);

function CText({ px, py, size, anchor = "middle", sx = 0.75, rot = 0, children, fill = "#111" }: any) {
  return (
    <text
      transform={`translate(${px},${py})${rot ? ` rotate(${rot})` : ""} scale(${sx},1)`}
      fontSize={size}
      textAnchor={anchor}
      fill={fill}
      fontFamily={FONT}
    >
      {children}
    </text>
  );
}

function Panel({ idx }: { idx: number }) {
  const L = layout[idx];
  const y = d3.scaleLinear().domain([0, 100]).range([L.base, L.top]);
  const line = d3.line<Pt>().x((d) => x(d[0])).y((d) => y(d[1]));
  const axisX = 73;
  const mid = (L.top + L.base) / 2;
  return (
    <g>
      {L.yAxis && <line x1={axisX} x2={axisX} y1={L.top} y2={L.base} stroke="#111" strokeWidth={2.5} />}
      {L.xLine && <line x1={axisX} x2={X1 + 4} y1={L.base} y2={L.base} stroke={L.xLine} strokeWidth={idx === 0 ? 3 : 4} />}
      <CText px={62} py={L.top + 11} size={32} anchor="end">100</CText>
      <CText px={62} py={L.base + 11} size={32} anchor="end">0</CText>
      <CText px={62} py={mid} size={32} rot={-90}>%</CText>
      {scanTicks.map((t, i) => (
        <g key={i}>
          <line x1={x(t)} x2={x(t)} y1={L.base + 3} y2={L.base + 17} stroke="#333" strokeWidth={2} />
          <line x1={x(t) + 15} x2={x(t) + 15} y1={L.base + 3} y2={L.base + 15} stroke="#aaa" strokeWidth={2} />
        </g>
      ))}
      {xTickValues.map((v) => (
        <CText key={v} px={x(v)} py={L.base + 50} size={34}>{v.toFixed(2)}</CText>
      ))}
      <path d={line(traces[idx]) || ""} fill="none" stroke="#111" strokeWidth={2.8} strokeLinejoin="round" />
      {labelSets[idx].map((l, i) => (
        <g key={i}>
          <CText px={x(l.t)} py={y(l.v) - 1} size={31}>{l.text}</CText>
          {l.pt !== undefined && (
            <line x1={x(l.lt!)} y1={y(l.lv!)} x2={x(l.pt)} y2={y(l.pv!)} stroke="#111" strokeWidth={2} />
          )}
        </g>
      ))}
      <CText px={L.nameX} py={L.nameY} size={49} anchor="start" sx={1}>{panelNames[idx]}</CText>
      {idx === 4 && <CText px={3424} py={L.base + 12} size={33} anchor="start" sx={0.78}>Time</CText>}
    </g>
  );
}

export default function App() {
  return (
    <svg width={W} height={H} style={{ position: "absolute", left: 0, top: 0, background: "#fff" }}>
      <rect x={0} y={0} width={W} height={H} fill="#fff" />
      {layout.map((_, i) => (
        <Panel key={i} idx={i} />
      ))}
      {markerTimes.map((t) => (
        <line key={t} x1={x(t)} x2={x(t)} y1={24} y2={2337} stroke="#444" strokeWidth={2} />
      ))}
    </svg>
  );
}
